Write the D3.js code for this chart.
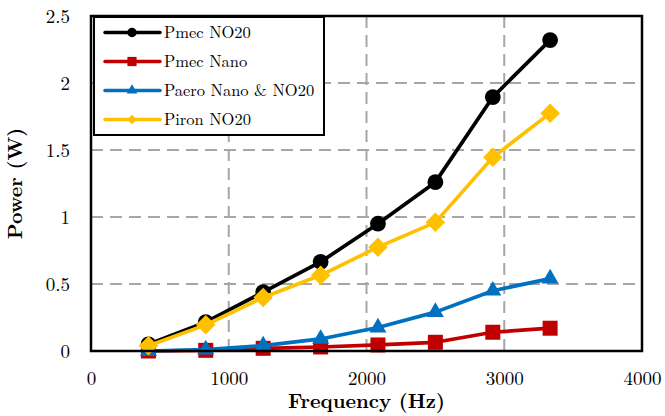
<!DOCTYPE html>
<html>
<head>
<meta charset="utf-8">
<script src="https://cdn.jsdelivr.net/npm/d3@7"></script>
<style>
  html, body { margin: 0; padding: 0; background: #fff; }
  svg { display: block; }
</style>
</head>
<body>
<svg id="chart" width="665" height="416"></svg>
<script>
// Excitation frequencies (Hz)
const frequencies = [417, 833, 1250, 1667, 2083, 2500, 2917, 3333];

// Power values (W) for each curve
const pmecNO20  = [0.05, 0.215, 0.44, 0.665, 0.95, 1.26, 1.895, 2.32];
const pmecNano  = [0.0, 0.005, 0.02, 0.03, 0.045, 0.065, 0.14, 0.17];
const paero     = [0.0, 0.01, 0.04, 0.09, 0.175, 0.29, 0.45, 0.54];
const pironNO20 = [0.04, 0.195, 0.40, 0.565, 0.775, 0.96, 1.445, 1.775];

const seriesNames = ["Pmec NO20", "Pmec Nano", "Paero Nano & NO20", "Piron NO20"];
const seriesValues = [pmecNO20, pmecNano, paero, pironNO20];
const seriesColors = ["#000000", "#C00000", "#0070C0", "#FFC000"];
// the diamond is a square turned by 45 degrees
const seriesSymbols = [d3.symbolCircle, d3.symbolSquare, d3.symbolTriangle, d3.symbolSquare];
const symbolRotation = [0, 0, 0, 45];
const symbolSizes = [195, 225, 125, 190];
const legendSymbolSizes = [70, 85, 50, 45];

const xTicks = [0, 1000, 2000, 3000, 4000];
const yTicks = [0, 0.5, 1, 1.5, 2, 2.5];
const xGrid = [1000, 2000, 3000];
const yGrid = [0.5, 1, 1.5, 2];

const FONT = '"Latin Modern Roman", "Liberation Serif", serif';

const svg = d3.select("#chart");
const plotLeft = 91, plotRight = 642, plotTop = 16, plotBottom = 351;

const x = d3.scaleLinear().domain([0, 4000]).range([plotLeft, plotRight]);
const y = d3.scaleLinear().domain([0, 2.5]).range([plotBottom, plotTop]);

// Dashed grid
const grid = svg.append("g")
  .attr("stroke", "#a6a6a6").attr("stroke-width", 2).attr("stroke-dasharray", "12,7");
grid.selectAll("line.v").data(xGrid).join("line").attr("class", "v")
  .attr("x1", d => x(d)).attr("x2", d => x(d)).attr("y1", plotTop).attr("y2", plotBottom);
grid.selectAll("line.h").data(yGrid).join("line").attr("class", "h")
  .attr("x1", plotLeft).attr("x2", plotRight).attr("y1", d => y(d)).attr("y2", d => y(d));

// Tick labels via axis generators (tick lines hidden)
const xAxis = svg.append("g")
  .attr("transform", `translate(0,${plotBottom})`)
  .call(d3.axisBottom(x).tickValues(xTicks).tickSize(0).tickPadding(21).tickFormat(d3.format("d")));
xAxis.select(".domain").remove();
xAxis.selectAll("text").style("font-family", FONT).style("font-size", "19px").attr("fill", "#000");

const yAxis = svg.append("g")
  .attr("transform", `translate(${plotLeft},0)`)
  .call(d3.axisLeft(y).tickValues(yTicks).tickSize(0).tickPadding(21).tickFormat(d => String(d)));
yAxis.select(".domain").remove();
yAxis.selectAll("text").style("font-family", FONT).style("font-size", "19px").attr("fill", "#000");

// Axis titles
svg.append("text")
  .attr("x", (plotLeft + plotRight) / 2).attr("y", 408)
  .attr("text-anchor", "middle")
  .style("font-family", FONT).style("font-size", "20px").style("font-weight", "bold")
  .text("Frequency (Hz)");
svg.append("text")
  .attr("transform", `translate(22,${(plotTop + plotBottom) / 2}) rotate(-90)`)
  .attr("text-anchor", "middle")
  .style("font-family", FONT).style("font-size", "20px").style("font-weight", "bold")
  .text("Power (W)");

// Series lines and markers
const line = d3.line().x((d, i) => x(frequencies[i])).y(d => y(d));
seriesValues.forEach((vals, k) => {
  const g = svg.append("g");
  g.append("path").datum(vals)
    .attr("d", line).attr("fill", "none")
    .attr("stroke", seriesColors[k]).attr("stroke-width", 3.7)
    .attr("stroke-linejoin", "round");
  g.selectAll("path.m").data(vals).join("path")
    .attr("class", "m")
    .attr("transform", (d, i) => `translate(${x(frequencies[i])},${y(d)}) rotate(${symbolRotation[k]})`)
    .attr("d", d3.symbol().type(seriesSymbols[k]).size(symbolSizes[k]))
    .attr("fill", seriesColors[k]);
});

// Plot frame
svg.append("rect")
  .attr("x", plotLeft).attr("y", plotTop).attr("width", plotRight - plotLeft).attr("height", plotBottom - plotTop)
  .attr("fill", "none").attr("stroke", "#000").attr("stroke-width", 2.5);

// Legend
const lg = svg.append("g");
lg.append("rect")
  .attr("x", 94).attr("y", 17).attr("width", 230).attr("height", 118)
  .attr("fill", "#fff").attr("stroke", "#000").attr("stroke-width", 2);
seriesNames.forEach((name, k) => {
  const cy = 32.5 + k * 29;
  lg.append("line").attr("x1", 105).attr("x2", 160).attr("y1", cy).attr("y2", cy)
    .attr("stroke", seriesColors[k]).attr("stroke-width", 3.5).attr("stroke-linecap", "round");
  lg.append("path")
    .attr("transform", `translate(132,${cy}) rotate(${symbolRotation[k]})`)
    .attr("d", d3.symbol().type(seriesSymbols[k]).size(legendSymbolSizes[k]))
    .attr("fill", seriesColors[k]);
  lg.append("text").attr("x", 164).attr("y", cy + 5.5)
    .style("font-family", FONT).style("font-size", "16.5px")
    .text(name);
});
</script>
</body>
</html>
